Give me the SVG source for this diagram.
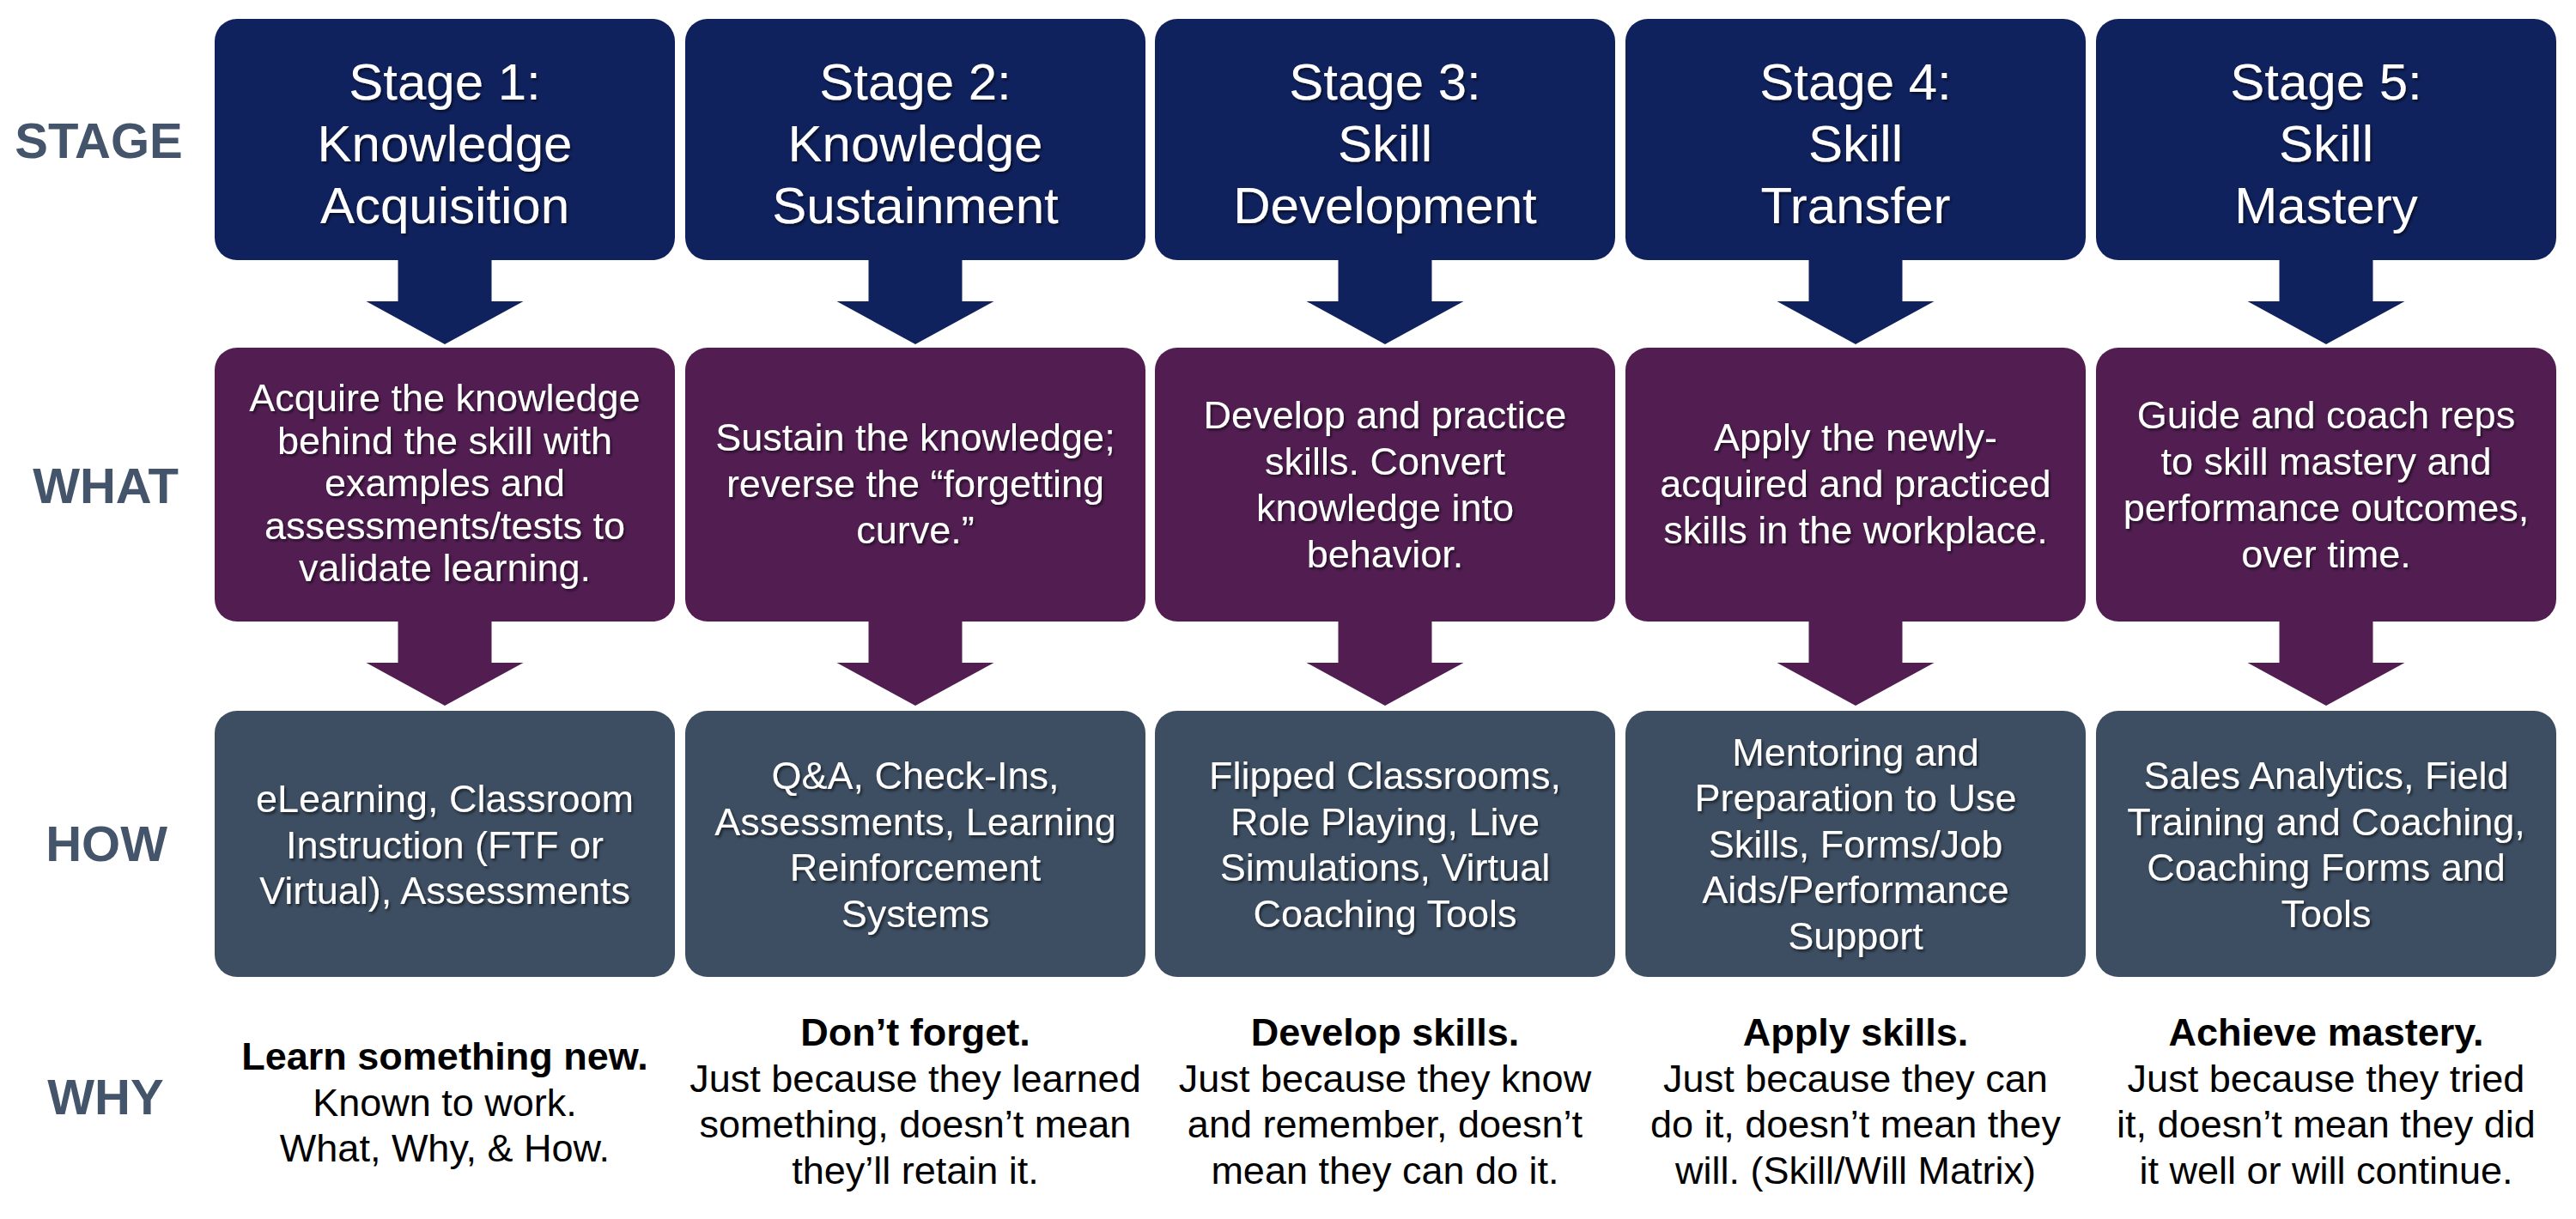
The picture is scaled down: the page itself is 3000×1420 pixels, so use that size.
<svg xmlns="http://www.w3.org/2000/svg" width="3000" height="1420" viewBox="0 0 3000 1420">
<defs>
  <filter id="ts" x="-10%" y="-10%" width="120%" height="130%">
    <feDropShadow dx="2" dy="2.5" stdDeviation="1.6" flood-color="#000000" flood-opacity="0.55"/>
  </filter>
  <path id="arrow" d="M-54.5,0 H54.5 V50 H91.5 L0,100 L-91.5,50 H-54.5 Z"/>
</defs>
<style>
  text { font-family: "Liberation Sans", Arial, sans-serif; }
  .stage { fill: #10225E; }
  .what { fill: #521E52; }
  .how { fill: #3D4E62; }
  .tStage { fill: #ffffff; font-size: 60px; text-anchor: middle; filter: url(#ts); }
  .tBox { fill: #ffffff; font-size: 45px; text-anchor: middle; filter: url(#ts); }
  .tWhy { fill: #000000; font-size: 45px; text-anchor: middle; }
  .tWhyB { fill: #000000; font-size: 45px; font-weight: bold; text-anchor: middle; }
  .label { fill: #44546A; font-size: 58px; font-weight: bold; text-anchor: middle; }
  .aBlue { fill: #10225E; }
  .aPurple { fill: #521E52; }
</style>
<rect width="3000" height="1420" fill="#ffffff"/>

<g id="row-labels">
  <text class="label" x="115" y="184">STAGE</text>
  <text class="label" x="123" y="586">WHAT</text>
  <text class="label" x="124" y="1003">HOW</text>
  <text class="label" x="123" y="1298">WHY</text>
</g>

<g id="connectors">
  <use href="#arrow" class="aBlue" x="518" y="301"/>
  <use href="#arrow" class="aBlue" x="1066" y="301"/>
  <use href="#arrow" class="aBlue" x="1613" y="301"/>
  <use href="#arrow" class="aBlue" x="2161" y="301"/>
  <use href="#arrow" class="aBlue" x="2709" y="301"/>
  <use href="#arrow" class="aPurple" x="518" y="722"/>
  <use href="#arrow" class="aPurple" x="1066" y="722"/>
  <use href="#arrow" class="aPurple" x="1613" y="722"/>
  <use href="#arrow" class="aPurple" x="2161" y="722"/>
  <use href="#arrow" class="aPurple" x="2709" y="722"/>
</g>

<!-- Stage row -->
<g id="stage1">
  <rect class="stage" x="250" y="22" width="536" height="281" rx="26"/>
  <text class="tStage" x="518" y="116">Stage 1:</text>
  <text class="tStage" x="518" y="188">Knowledge</text>
  <text class="tStage" x="518" y="260">Acquisition</text>
</g>
<g id="stage2">
  <rect class="stage" x="798" y="22" width="536" height="281" rx="26"/>
  <text class="tStage" x="1066" y="116">Stage 2:</text>
  <text class="tStage" x="1066" y="188">Knowledge</text>
  <text class="tStage" x="1066" y="260">Sustainment</text>
</g>
<g id="stage3">
  <rect class="stage" x="1345" y="22" width="536" height="281" rx="26"/>
  <text class="tStage" x="1613" y="116">Stage 3:</text>
  <text class="tStage" x="1613" y="188">Skill</text>
  <text class="tStage" x="1613" y="260">Development</text>
</g>
<g id="stage4">
  <rect class="stage" x="1893" y="22" width="536" height="281" rx="26"/>
  <text class="tStage" x="2161" y="116">Stage 4:</text>
  <text class="tStage" x="2161" y="188">Skill</text>
  <text class="tStage" x="2161" y="260">Transfer</text>
</g>
<g id="stage5">
  <rect class="stage" x="2441" y="22" width="536" height="281" rx="26"/>
  <text class="tStage" x="2709" y="116">Stage 5:</text>
  <text class="tStage" x="2709" y="188">Skill</text>
  <text class="tStage" x="2709" y="260">Mastery</text>
</g>

<!-- What row -->
<g id="what1">
  <rect class="what" x="250" y="405" width="536" height="319" rx="26"/>
  <text class="tBox" x="518" y="479">Acquire the knowledge</text>
  <text class="tBox" x="518" y="528.5">behind the skill with</text>
  <text class="tBox" x="518" y="578">examples and</text>
  <text class="tBox" x="518" y="627.5">assessments/tests to</text>
  <text class="tBox" x="518" y="677">validate learning.</text>
</g>
<g id="what2">
  <rect class="what" x="798" y="405" width="536" height="319" rx="26"/>
  <text class="tBox" x="1066" y="525">Sustain the knowledge;</text>
  <text class="tBox" x="1066" y="579">reverse the “forgetting</text>
  <text class="tBox" x="1066" y="633">curve.”</text>
</g>
<g id="what3">
  <rect class="what" x="1345" y="405" width="536" height="319" rx="26"/>
  <text class="tBox" x="1613" y="499">Develop and practice</text>
  <text class="tBox" x="1613" y="553">skills. Convert</text>
  <text class="tBox" x="1613" y="607">knowledge into</text>
  <text class="tBox" x="1613" y="661">behavior.</text>
</g>
<g id="what4">
  <rect class="what" x="1893" y="405" width="536" height="319" rx="26"/>
  <text class="tBox" x="2161" y="525">Apply the newly-</text>
  <text class="tBox" x="2161" y="579">acquired and practiced</text>
  <text class="tBox" x="2161" y="633">skills in the workplace.</text>
</g>
<g id="what5">
  <rect class="what" x="2441" y="405" width="536" height="319" rx="26"/>
  <text class="tBox" x="2709" y="499">Guide and coach reps</text>
  <text class="tBox" x="2709" y="553">to skill mastery and</text>
  <text class="tBox" x="2709" y="607">performance outcomes,</text>
  <text class="tBox" x="2709" y="661">over time.</text>
</g>

<!-- How row -->
<g id="how1">
  <rect class="how" x="250" y="828" width="536" height="310" rx="26"/>
  <text class="tBox" x="518" y="946">eLearning, Classroom</text>
  <text class="tBox" x="518" y="999.5">Instruction (FTF or</text>
  <text class="tBox" x="518" y="1053">Virtual), Assessments</text>
</g>
<g id="how2">
  <rect class="how" x="798" y="828" width="536" height="310" rx="26"/>
  <text class="tBox" x="1066" y="919">Q&amp;A, Check-Ins,</text>
  <text class="tBox" x="1066" y="972.5">Assessments, Learning</text>
  <text class="tBox" x="1066" y="1026">Reinforcement</text>
  <text class="tBox" x="1066" y="1079.5">Systems</text>
</g>
<g id="how3">
  <rect class="how" x="1345" y="828" width="536" height="310" rx="26"/>
  <text class="tBox" x="1613" y="919">Flipped Classrooms,</text>
  <text class="tBox" x="1613" y="972.5">Role Playing, Live</text>
  <text class="tBox" x="1613" y="1026">Simulations, Virtual</text>
  <text class="tBox" x="1613" y="1079.5">Coaching Tools</text>
</g>
<g id="how4">
  <rect class="how" x="1893" y="828" width="536" height="310" rx="26"/>
  <text class="tBox" x="2161" y="892">Mentoring and</text>
  <text class="tBox" x="2161" y="945">Preparation to Use</text>
  <text class="tBox" x="2161" y="998.5">Skills, Forms/Job</text>
  <text class="tBox" x="2161" y="1052">Aids/Performance</text>
  <text class="tBox" x="2161" y="1105.5">Support</text>
</g>
<g id="how5">
  <rect class="how" x="2441" y="828" width="536" height="310" rx="26"/>
  <text class="tBox" x="2709" y="919">Sales Analytics, Field</text>
  <text class="tBox" x="2709" y="972.5">Training and Coaching,</text>
  <text class="tBox" x="2709" y="1026">Coaching Forms and</text>
  <text class="tBox" x="2709" y="1079.5">Tools</text>
</g>

<!-- Why row -->
<g id="why1">
  <text class="tWhyB" x="518" y="1246">Learn something new.</text>
  <text class="tWhy" x="518" y="1299.5">Known to work.</text>
  <text class="tWhy" x="518" y="1353">What, Why, &amp; How.</text>
</g>
<g id="why2">
  <text class="tWhyB" x="1066" y="1218">Don’t forget.</text>
  <text class="tWhy" x="1066" y="1271.5">Just because they learned</text>
  <text class="tWhy" x="1066" y="1325">something, doesn’t mean</text>
  <text class="tWhy" x="1066" y="1378.5">they’ll retain it.</text>
</g>
<g id="why3">
  <text class="tWhyB" x="1613" y="1218">Develop skills.</text>
  <text class="tWhy" x="1613" y="1271.5">Just because they know</text>
  <text class="tWhy" x="1613" y="1325">and remember, doesn’t</text>
  <text class="tWhy" x="1613" y="1378.5">mean they can do it.</text>
</g>
<g id="why4">
  <text class="tWhyB" x="2161" y="1218">Apply skills.</text>
  <text class="tWhy" x="2161" y="1271.5">Just because they can</text>
  <text class="tWhy" x="2161" y="1325">do it, doesn’t mean they</text>
  <text class="tWhy" x="2161" y="1378.5">will. (Skill/Will Matrix)</text>
</g>
<g id="why5">
  <text class="tWhyB" x="2709" y="1218">Achieve mastery.</text>
  <text class="tWhy" x="2709" y="1271.5">Just because they tried</text>
  <text class="tWhy" x="2709" y="1325">it, doesn’t mean they did</text>
  <text class="tWhy" x="2709" y="1378.5">it well or will continue.</text>
</g>
</svg>
